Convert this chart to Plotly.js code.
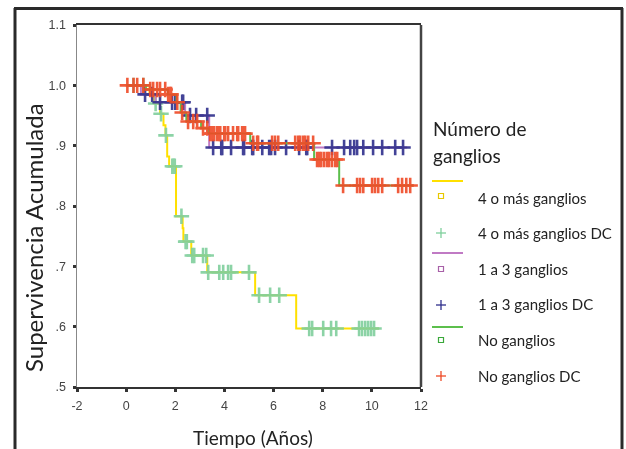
<!DOCTYPE html>
<html><head><meta charset="utf-8">
<script src="https://cdn.plot.ly/plotly-3.0.1.min.js"></script>
<style>html,body{margin:0;padding:0;background:#fff}#chart{width:626px;height:449px}</style>
</head><body><div id="chart"></div>
<script>
// ---- data ----
// 4 o más ganglios: KM step curve
const masT = [0, 0.95, 1.15, 1.38, 1.52, 1.60, 1.67, 1.75, 2.03, 2.30, 2.33, 2.65, 3.30, 5.25, 6.92, 10.3];
const masS = [1.0, 0.985, 0.970, 0.953, 0.934, 0.917, 0.882, 0.866, 0.783, 0.763, 0.741, 0.718, 0.690, 0.652, 0.597, 0.597];
// 4 o más ganglios DC: censored
const masCT = [0.3, 0.7, 1.2, 1.42, 1.62, 1.88, 1.93, 1.98, 2.25, 2.42, 2.47, 2.69, 2.77, 3.13, 3.26, 3.34, 3.79, 3.95, 4.15, 4.27, 5.0, 5.41, 5.86, 6.23, 7.45, 7.57, 8.02, 8.34, 8.55, 9.48, 9.6, 9.73, 9.85, 9.97, 10.09];
const masCS = [1.0, 1.0, 0.970, 0.953, 0.917, 0.866, 0.866, 0.866, 0.783, 0.741, 0.741, 0.718, 0.718, 0.718, 0.718, 0.690, 0.690, 0.690, 0.690, 0.690, 0.690, 0.652, 0.652, 0.652, 0.597, 0.597, 0.597, 0.597, 0.597, 0.597, 0.597, 0.597, 0.597, 0.597, 0.597];
// 1 a 3 ganglios
const unoT = [0, 0.6, 1.2, 2.4, 3.38, 11.44];
const unoS = [1.0, 0.985, 0.972, 0.950, 0.897, 0.897];
const unoCT = [0.77, 1.06, 1.38, 1.87, 2.0, 2.28, 2.32, 2.6, 2.85, 3.3, 3.54, 3.87, 3.91, 4.27, 4.76, 4.80, 5.13, 5.17, 5.54, 5.82, 5.90, 6.06, 6.51, 7.04, 7.33, 7.37, 8.38, 8.87, 9.12, 9.28, 9.40, 9.65, 10.05, 10.42, 10.95, 11.27];
const unoCS = [0.985, 0.985, 0.972, 0.972, 0.972, 0.972, 0.972, 0.950, 0.950, 0.950, 0.897, 0.897, 0.897, 0.897, 0.897, 0.897, 0.897, 0.897, 0.897, 0.897, 0.897, 0.897, 0.897, 0.897, 0.897, 0.897, 0.897, 0.897, 0.897, 0.897, 0.897, 0.897, 0.897, 0.897, 0.897, 0.897];
// No ganglios
const noT = [0, 0.8, 1.7, 2.05, 2.22, 2.45, 3.05, 3.35, 5.05, 7.65, 8.67, 11.7];
const noS = [1.0, 0.993, 0.985, 0.972, 0.955, 0.940, 0.929, 0.920, 0.904, 0.877, 0.834, 0.834];
const noCT = [0.05, 0.3, 0.45, 0.7, 0.98, 1.1, 1.26, 1.38, 1.59, 1.71, 1.79, 1.83, 2.08, 2.28, 2.52, 2.73, 2.89, 3.13, 3.3,
  3.42, 3.5, 3.58, 3.7, 3.79, 3.83, 3.99, 4.03, 4.15, 4.35, 4.52, 4.56, 4.72, 4.76, 4.84,
  5.17, 5.33, 5.37, 5.94, 6.06, 6.19, 6.88, 7.0, 7.08, 7.2, 7.29, 7.41, 7.61,
  7.77, 7.86, 7.94, 8.06, 8.18, 8.26, 8.38, 8.51, 8.59,
  8.83, 9.4, 9.52, 9.65, 10.01, 10.13, 10.26, 10.42, 11.07, 11.23, 11.4, 11.56];
const noCS = [1.0, 1.0, 1.0, 1.0, 0.993, 0.993, 0.993, 0.993, 0.993, 0.985, 0.985, 0.985, 0.972, 0.955, 0.940, 0.940, 0.940, 0.929, 0.929,
  0.920, 0.920, 0.920, 0.920, 0.920, 0.920, 0.920, 0.920, 0.920, 0.920, 0.920, 0.920, 0.920, 0.920, 0.920,
  0.904, 0.904, 0.904, 0.904, 0.904, 0.904, 0.904, 0.904, 0.904, 0.904, 0.904, 0.904, 0.904,
  0.877, 0.877, 0.877, 0.877, 0.877, 0.877, 0.877, 0.877, 0.877,
  0.834, 0.834, 0.834, 0.834, 0.834, 0.834, 0.834, 0.834, 0.834, 0.834, 0.834, 0.834];

const xTicks = [-2, 0, 2, 4, 6, 8, 10, 12];
const yTicks = [0.5, 0.6, 0.7, 0.8, 0.9, 1.0, 1.1];
const yTickText = ['.5', '.6', '.7', '.8', '.9', '1.0', '1.1'];
const legendNames = ['4 o más ganglios', '4 o más ganglios DC', '1 a 3 ganglios', '1 a 3 ganglios DC', 'No ganglios', 'No ganglios DC'];

// ---- styles ----
const W = 626, H = 449;
const X = px => px / W, Y = py => 1 - py / H;
const cYel = '#ffe000', cGrn4 = '#7fcf9c', cPur = '#c07ac4', cNavy = '#2f2f8c', cGrn = '#5cbf4c', cRed = '#ef4a26';

function stepTrace(t, s, color) {
  return {x: t, y: s, mode: 'lines', line: {shape: 'hv', color: color, width: 2}, hoverinfo: 'skip', showlegend: false};
}
function censTrace(t, s, color, size) {
  return {x: t, y: s, mode: 'markers', marker: {symbol: 'cross-thin', size: size, color: color, line: {color: color, width: 2.6}}, opacity: 0.9, hoverinfo: 'skip', showlegend: false};
}

const traces = [
  stepTrace(masT, masS, cYel),
  censTrace(masCT, masCS, cGrn4, 11),
  stepTrace(unoT, unoS, cPur),
  censTrace(unoCT, unoCS, cNavy, 11),
  stepTrace(noT, noS, cGrn),
  censTrace(noCT, noCS, cRed, 11)
];

const font = 'Lato, "Open Sans", sans-serif';
const annotations = [
  {text: 'Tiempo (Años)', xref: 'paper', yref: 'paper', x: X(253), y: Y(437), showarrow: false, xanchor: 'center', yanchor: 'middle', font: {family: font, size: 19, color: '#222'}},
  {text: 'Supervivencia Acumulada', xref: 'paper', yref: 'paper', x: X(33), y: Y(238), textangle: -90, showarrow: false, xanchor: 'center', yanchor: 'middle', font: {family: font, size: 24, color: '#222'}},
  {text: 'Número de', xref: 'paper', yref: 'paper', x: X(431), y: Y(128), showarrow: false, xanchor: 'left', yanchor: 'middle', font: {family: font, size: 19, color: '#222'}},
  {text: 'ganglios', xref: 'paper', yref: 'paper', x: X(431), y: Y(155), showarrow: false, xanchor: 'left', yanchor: 'middle', font: {family: font, size: 19, color: '#222'}}
];
const itemY = [198, 233, 269, 304, 340, 376];
legendNames.forEach((n, i) => annotations.push({text: n, xref: 'paper', yref: 'paper', x: X(476), y: Y(itemY[i]), showarrow: false, xanchor: 'left', yanchor: 'middle', font: {family: font, size: 15, color: '#222'}}));

const shapes = [];
// outer frame
const frame = '#2a2a2a';
shapes.push({type: 'line', xref: 'paper', yref: 'paper', x0: X(15), x1: X(15), y0: Y(8), y1: Y(460), line: {color: frame, width: 3}});
shapes.push({type: 'line', xref: 'paper', yref: 'paper', x0: X(14), x1: X(623), y0: Y(8.5), y1: Y(8.5), line: {color: frame, width: 3}});
shapes.push({type: 'line', xref: 'paper', yref: 'paper', x0: X(622), x1: X(622), y0: Y(8), y1: Y(460), line: {color: frame, width: 3}});
// right edge of plot box
shapes.push({type: 'line', xref: 'paper', yref: 'paper', x0: X(421), x1: X(421), y0: Y(25), y1: Y(387), line: {color: '#444', width: 2.5}});
// legend glyphs
const glyphLines = [[181, cYel], [253, cPur], [327, cGrn]];
glyphLines.forEach(g => shapes.push({type: 'line', xref: 'paper', yref: 'paper', x0: X(432), x1: X(463), y0: Y(g[0]), y1: Y(g[0]), line: {color: g[1], width: 2}}));
const squares = [[196, '#e8c800'], [269, '#a860a8'], [340, '#3aa83a']];
squares.forEach(s => shapes.push({type: 'rect', xref: 'paper', yref: 'paper', x0: X(438.5), x1: X(443.5), y0: Y(s[0] - 2.5), y1: Y(s[0] + 2.5), line: {color: s[1], width: 1.2}}));
const crosses = [[233, cGrn4], [305, cNavy], [376, cRed]];
crosses.forEach(c => {
  shapes.push({type: 'line', xref: 'paper', yref: 'paper', x0: X(436), x1: X(446), y0: Y(c[0]), y1: Y(c[0]), line: {color: c[1], width: 1.3}});
  shapes.push({type: 'line', xref: 'paper', yref: 'paper', x0: X(441), x1: X(441), y0: Y(c[0] - 5), y1: Y(c[0] + 5), line: {color: c[1], width: 1.3}});
});

const tickFont = {family: '"Liberation Sans", Arial, sans-serif', size: 12.5, color: '#444'};
const layout = {
  width: W, height: H,
  margin: {l: 0, r: 0, t: 0, b: 0},
  paper_bgcolor: '#fff', plot_bgcolor: '#fff',
  showlegend: false,
  xaxis: {domain: [X(77), X(421)], range: [-2, 12], tickvals: xTicks, ticktext: xTicks.map(String),
    ticks: 'outside', ticklen: 3, tickwidth: 3, tickcolor: '#333', showline: true, linecolor: '#333', linewidth: 2, mirror: true,
    showgrid: false, zeroline: false, tickfont: tickFont, ticklabelstandoff: 3, fixedrange: true},
  yaxis: {domain: [Y(387), Y(25)], range: [0.5, 1.1], tickvals: yTicks, ticktext: yTickText,
    ticks: 'outside', ticklen: 3, tickwidth: 3, tickcolor: '#333', showline: true, linecolor: '#888', linewidth: 1.5,
    showgrid: false, zeroline: false, tickfont: tickFont, ticklabelstandoff: 4, fixedrange: true},
  annotations: annotations,
  shapes: shapes
};
Plotly.newPlot('chart', traces, layout, {displayModeBar: false, staticPlot: true});
</script>
</body></html>
